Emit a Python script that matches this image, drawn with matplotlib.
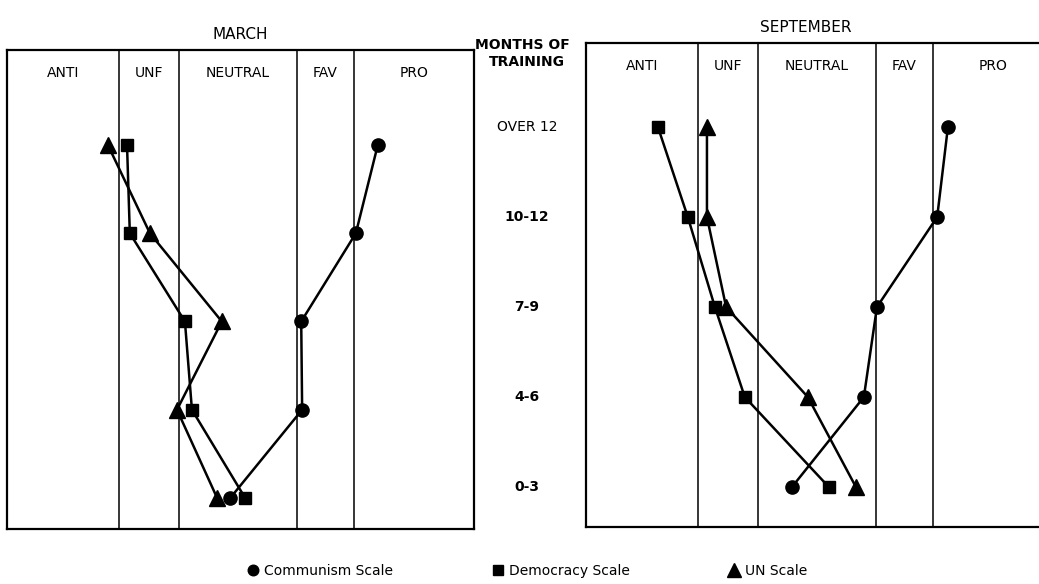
import matplotlib.pyplot as plt
from matplotlib.lines import Line2D
import matplotlib.transforms as mtransforms

# attitude categories and their boundaries on a 0-100 scale
categories = ['ANTI', 'UNF', 'NEUTRAL', 'FAV', 'PRO']
bounds = [0, 23.9, 36.9, 62.0, 74.4, 100]

# months of training, top to bottom
months = ['OVER 12', '10-12', '7-9', '4-6', '0-3']

# mean positions on the scale
march_communism = [79.4, 74.7, 63.0, 63.2, 47.8]
march_democracy = [25.7, 26.3, 38.1, 39.6, 51.0]
march_un = [21.6, 30.6, 46.0, 36.4, 45.0]

sept_communism = [77.5, 75.2, 62.3, 59.5, 44.1]
sept_democracy = [15.4, 21.8, 27.6, 34.0, 52.0]
sept_un = [25.9, 25.9, 30.0, 47.5, 57.8]

series_names = ['Communism Scale', 'Democracy Scale', 'UN Scale']
markers = ['o', 's', '^']
msizes = [9.5, 8.5, 12]

W, H = 1039, 584
fig = plt.figure(figsize=(W / 100, H / 100), dpi=100)
plt.rcParams['font.family'] = ['DejaVu Sans']

def px_axes(x0, y0, x1, y1):
    # pixel box (top-left origin) -> figure fraction
    return fig.add_axes([x0 / W, 1 - y1 / H, (x1 - x0) / W, (y1 - y0) / H])

ax1 = px_axes(7, 50, 474, 529)
ax2 = px_axes(586, 43, 1053, 527)

rows = list(range(len(months)))

def draw_panel(ax, title, data, ylim):
    ax.set_xlim(bounds[0], bounds[-1])
    ax.set_ylim(*ylim)
    for b in bounds[1:-1]:
        ax.axvline(b, color='black', lw=1.1)
    for s in ax.spines.values():
        s.set_linewidth(1.6)
    ax.set_xticks([])
    ax.set_yticks([])
    for i, c in enumerate(categories):
        ax.text((bounds[i] + bounds[i + 1]) / 2, 0.953, c, transform=ax.get_xaxis_transform(),
                ha='center', va='center', fontsize=10)
    ax.set_title(title, fontsize=11, pad=8)
    for vals, m, ms in zip(data, markers, msizes):
        ax.plot(vals, rows, color='black', lw=1.8, marker=m, markersize=ms, clip_on=False)

draw_panel(ax1, 'MARCH', [march_communism, march_democracy, march_un], (4.351, -1.076))
draw_panel(ax2, 'SEPTEMBER', [sept_communism, sept_democracy, sept_un], (4.444, -0.933))
ax2.title.set_position((0.47, 1.0))

# middle column: months of training
fig.text(522 / W, 1 - 45 / H, 'MONTHS OF', ha='center', va='center', fontsize=10, fontweight='bold')
fig.text(527 / W, 1 - 62 / H, 'TRAINING', ha='center', va='center', fontsize=10, fontweight='bold')
trans = mtransforms.blended_transform_factory(fig.transFigure, ax2.transData)
for r, lab in zip(rows, months):
    fig.text(527 / W, r, lab, transform=trans, ha='center', va='center', fontsize=10,
             fontweight='normal' if lab == 'OVER 12' else 'bold')

# legend
handles = [Line2D([], [], color='black', ls='none', marker=m, markersize=ms * 0.8)
           for m, ms in zip(markers, msizes)]
fig.legend(handles, series_names, loc='center', bbox_to_anchor=(0.507, 1 - 571 / H), ncol=3,
           frameon=False, fontsize=10, handletextpad=0.3, columnspacing=7.0, handlelength=1)

fig.savefig('out.png', dpi=100)
